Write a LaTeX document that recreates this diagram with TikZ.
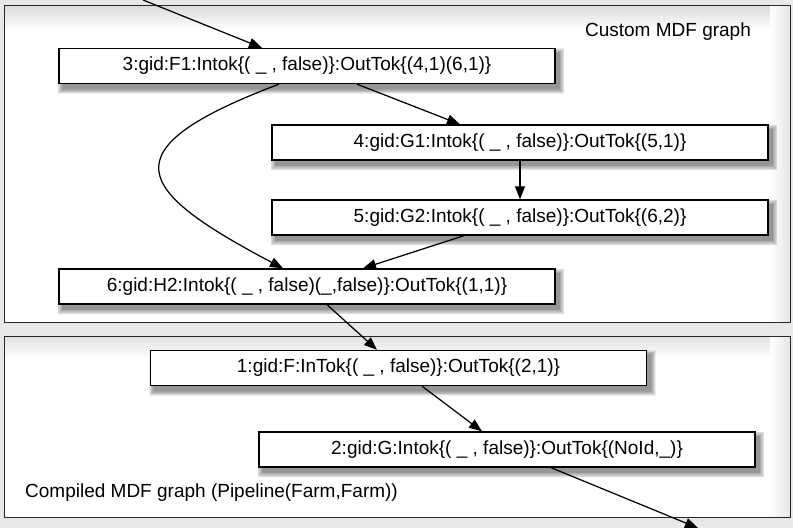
\documentclass[tikz,border=0pt]{standalone}
\usepackage{fontspec}
\setmainfont{Liberation Sans}
\usetikzlibrary{arrows.meta,calc}
\pgfdeclarelayer{bg}
\pgfdeclarelayer{shadowlayer}
\pgfsetlayers{bg,shadowlayer,main}
\tikzset{
  frame/.style={draw=black!85, line width=1pt, fill=white},
  tokbox/.style={draw=black, line width=1.3pt, fill=white, minimum width=496pt, minimum height=35pt,
    inner sep=0pt, font=\fontsize{19}{23}\selectfont},
  flow/.style={line width=1.25pt, -{Triangle[length=13pt,width=10pt]}},
  caption/.style={font=\fontsize{19}{23}\selectfont, inner sep=0pt}
}
\newcommand{\softshadow}[1]{%
  \foreach \k in {0,1,...,6}{
    \fill[black, opacity=0.07]
      ($(#1.south west)+(4-\k*0.8,5+\k*0.8)$) rectangle ($(#1.north east)+(4+\k*0.8,5-\k*0.8)$);
  }}
\begin{document}
\begin{tikzpicture}[x=1pt,y=-1pt]
\useasboundingbox (0,0) rectangle (793,528);

% nodes
\node[tokbox] (n3) at (307,66) {3:gid:F1:Intok\{( \_ , false)\}:OutTok\{(4,1)(6,1)\}};
\node[tokbox] (n4) at (520,142.5) {4:gid:G1:Intok\{( \_ , false)\}:OutTok\{(5,1)\}};
\node[tokbox] (n5) at (520,217.5) {5:gid:G2:Intok\{( \_ , false)\}:OutTok\{(6,2)\}};
\node[tokbox] (n6) at (307,286.5) {6:gid:H2:Intok\{( \_ , false)(\_,false)\}:OutTok\{(1,1)\}};
\node[tokbox] (n1) at (398.5,368) {1:gid:F:InTok\{( \_ , false)\}:OutTok\{(2,1)\}};
\node[tokbox] (n2) at (507,449.5) {2:gid:G:Intok\{( \_ , false)\}:OutTok\{(NoId,\_)\}};

\node[caption] (lab1) at (668,32) {Custom MDF graph};
\node[caption, anchor=west] (lab2) at (25,493) {Compiled MDF graph (Pipeline(Farm,Farm))};

\begin{pgfonlayer}{shadowlayer}
  \softshadow{n3}\softshadow{n4}\softshadow{n5}\softshadow{n6}\softshadow{n1}\softshadow{n2}
\end{pgfonlayer}

\begin{pgfonlayer}{bg}
\fill[black!9] (0,0) rectangle (793,528);
% top frame
\fill[white] (4,5) rectangle (790,322);
\shade[top color=black!14, bottom color=white] (4.5,5.5) rectangle (789.5,30);
\shade[left color=white, right color=black!10] (770,5.5) rectangle (789.5,321.5);
\draw[line width=1pt, draw=black!85] (4,5) rectangle (790,322);
% bottom frame
\fill[white] (4,336) rectangle (790,517);
\shade[top color=black!12, bottom color=white] (4.5,336.5) rectangle (789.5,358);
\shade[left color=white, right color=black!10] (770,336.5) rectangle (789.5,516.5);
\draw[line width=1pt, draw=black!85] (4,336) rectangle (790,517);
\end{pgfonlayer}

\coordinate (in) at (143,0);
\coordinate (out) at (698,528);

% connectors
\draw[flow] (in) -- ([xshift=-45pt]n3.north);
\draw[flow] ([xshift=50pt]n3.south) -- ([xshift=-60pt]n4.north);
\draw[flow] ([xshift=-28pt]n3.south) .. controls (105,150) and (135,190) .. ([xshift=-24pt]n6.north);
\draw[flow] (n4.south) -- (n5.north);
\draw[flow] ([xshift=-56pt]n5.south) -- ([xshift=56pt]n6.north);
\draw[flow] ([xshift=20pt]n6.south) -- ([xshift=-21.5pt]n1.north);
\draw[flow] ([xshift=23.5pt]n1.south) -- ([xshift=-25pt]n2.north);
\draw[flow] ([xshift=44pt]n2.south) -- (out);
\end{tikzpicture}
\end{document}
